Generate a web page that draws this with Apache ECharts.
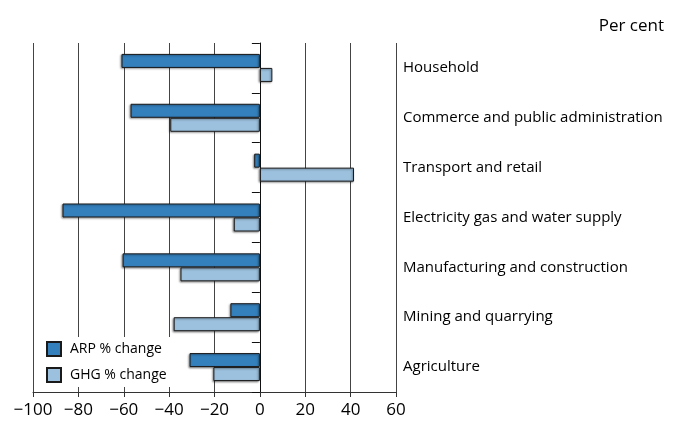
<!DOCTYPE html>
<html>
<head>
<meta charset="utf-8">
<script src="https://cdn.jsdelivr.net/npm/echarts@6/dist/echarts.min.js"></script>
<style>
  html, body { margin: 0; padding: 0; background: #fff; }
  #chart { width: 681px; height: 423px; }
</style>
</head>
<body>
<div id="chart"></div>
<script>
// sectors, top to bottom
const sectors = [
  "Household",
  "Commerce and public administration",
  "Transport and retail",
  "Electricity gas and water supply",
  "Manufacturing and construction",
  "Mining and quarrying",
  "Agriculture"
];
const arpChange = [-61, -57, -2.5, -87, -60.5, -13, -31];
const ghgChange = [5.5, -39.5, 41.5, -11.5, -35, -38, -20.5];
const xTicks = [-100, -80, -60, -40, -20, 0, 20, 40, 60];

const font = "Open Sans";
const chart = echarts.init(document.getElementById("chart"));

// gray drop shadow on the bars
const barStyle = color => ({
  color: color,
  borderColor: "#1a1a1a",
  borderWidth: 1,
  shadowColor: "rgba(0,0,0,0.4)",
  shadowBlur: 2,
  shadowOffsetX: -1,
  shadowOffsetY: 1
});

chart.setOption({
  animation: false,
  textStyle: { fontFamily: font, color: "#000" },
  title: {
    text: "Per cent",
    right: 12,
    top: 13,
    textStyle: { fontFamily: font, fontSize: 17, fontWeight: "normal", color: "#000" }
  },
  legend: {
    orient: "vertical",
    left: 40,
    top: 337,
    padding: [4, 6, 4, 6],
    backgroundColor: "#fff",
    itemWidth: 14,
    itemHeight: 14,
    itemGap: 10,
    icon: "rect",
    textStyle: { fontFamily: font, fontSize: 14, color: "#000", padding: [0, 0, 0, 4] },
    data: ["ARP % change", "GHG % change"]
  },
  grid: { left: 33, right: 285, top: 43, bottom: 31 },
  xAxis: {
    type: "value",
    min: xTicks[0],
    max: xTicks[xTicks.length - 1],
    interval: 20,
    axisLine: { show: true, lineStyle: { color: "#333", width: 1 } },
    axisTick: { show: true, length: 5, lineStyle: { color: "#333" } },
    axisLabel: {
      fontSize: 17,
      color: "#000",
      margin: 10,
      formatter: v => String(v).replace("-", "\u2212")
    },
    splitLine: { show: true, lineStyle: { color: "#444", width: 1 } }
  },
  yAxis: [
    {
      type: "category",
      inverse: true,
      data: sectors,
      position: "left",
      axisLine: { show: true, onZero: true, lineStyle: { color: "#111", width: 1 } },
      axisTick: { show: true, length: 8, lineStyle: { color: "#111" } },
      axisLabel: { show: false }
    },
    {
      type: "category",
      inverse: true,
      data: sectors,
      position: "right",
      axisLine: { show: false },
      axisTick: { show: false },
      axisLabel: { show: true, fontSize: 15, color: "#000", margin: 7, align: "left" }
    }
  ],
  series: [
    {
      name: "ARP % change",
      type: "bar",
      data: arpChange,
      barWidth: 14,
      barGap: "0%",
      itemStyle: barStyle("#3480BD"),
      z: 3
    },
    {
      name: "GHG % change",
      type: "bar",
      data: ghgChange,
      barWidth: 14,
      barGap: "0%",
      itemStyle: barStyle("#9CC1DE"),
      z: 3
    }
  ]
});
</script>
</body>
</html>
